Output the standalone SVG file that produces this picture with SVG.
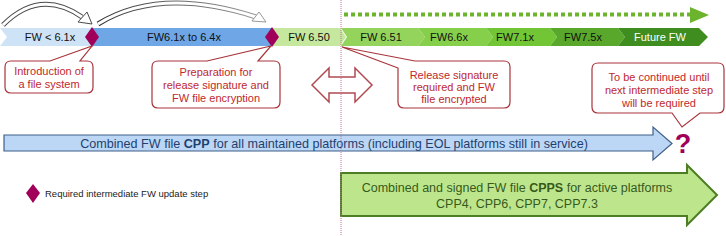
<svg xmlns="http://www.w3.org/2000/svg" width="726" height="236" viewBox="0 0 726 236">
<defs>
<style>
text{font-family:"Liberation Sans",Arial,sans-serif;}
.seg{font-size:11px;fill:#111;text-anchor:middle;}
.call{fill:#fff;stroke:#a8343a;stroke-width:1.2;}
.ct{font-size:11px;fill:#c0282d;text-anchor:middle;}
.dia{fill:#a0005a;}
.curveO{fill:none;stroke:#4a4a4a;stroke-width:5;}
.curveI{fill:none;stroke:#fff;stroke-width:3;}
</style>
<linearGradient id="fade" x1="0" x2="1" y1="0" y2="0">
<stop offset="0" stop-color="#333"/>
<stop offset="1" stop-color="#999"/>
</linearGradient>
</defs>

<g id="timeline">
<g id="seg-fw-lt-61">
<polygon points="0,28 92,28 92,46 0,46 7,37" fill="#cfe3f6"/>
<text class="seg" x="50" y="41">FW &lt; 6.1x</text>
</g>
<g id="seg-fw61-64">
<rect x="92" y="28" width="180" height="18" fill="#6ea6e6"/>
<text class="seg" x="184" y="41">FW6.1x to 6.4x</text>
</g>
<g id="seg-fw650">
<polygon points="272,28 340,28 346,37 340,46 272,46" fill="#c6e89e"/>
<text class="seg" x="309" y="41">FW 6.50</text>
</g>
<g id="seg-fw651">
<polygon points="341,28 418,28 425,37 418,46 341,46 347,37" fill="#94d45c"/>
<text class="seg" x="381" y="41">FW 6.51</text>
</g>
<g id="seg-fw66">
<polygon points="418,28 486,28 493,37 486,46 418,46 425,37" fill="#86cf4a"/>
<text class="seg" x="449" y="41">FW6.6x</text>
</g>
<g id="seg-fw71">
<polygon points="486,28 550,28 557,37 550,46 486,46 493,37" fill="#72c535"/>
<text class="seg" x="515" y="41">FW7.1x</text>
</g>
<g id="seg-fw75">
<polygon points="550,28 618,28 625,37 618,46 550,46 557,37" fill="#5aa82b"/>
<text class="seg" x="583" y="41">FW7.5x</text>
</g>
<g id="seg-future">
<polygon points="618,28 699,28 708,37 699,46 618,46 625,37" fill="#3f8c1f"/>
<text class="seg" x="660" y="41" style="fill:#fff">Future FW</text>
</g>
</g>

<g id="diamond-1"><polygon class="dia" points="92,27 99,37 92,47 85,37"/></g>
<g id="diamond-2"><polygon class="dia" points="272,27 279,37 272,47 265,37"/></g>

<g id="connectors">
<path class="curveO" d="M3,25 Q40,-12 82,17"/>
<path class="curveI" d="M3,25 Q40,-12 82,17"/>
<polygon points="78,22 87,12 92,24" fill="#fff" stroke="#4a4a4a" stroke-width="1"/>
<path d="M98,24 Q160,-14 256,17" fill="none" stroke="url(#fade)" stroke-width="5"/>
<path d="M98,24 Q160,-14 256,17" fill="none" stroke="#fff" stroke-width="3"/>
<polygon points="252,21 259,12 266,22" fill="#fff" stroke="#999" stroke-width="1"/>
<line x1="344" y1="14.5" x2="692" y2="14.5" stroke="#6cb42e" stroke-width="4" stroke-dasharray="4 3"/>
<polygon points="690,7 709,15 690,23" fill="#6cb42e"/>
</g>

<g id="callout-intro">
<path class="call" d="M11,61 H50 L92,46 L80,61 H87 Q93,61 93,67 V87 Q93,93 87,93 H11 Q5,93 5,87 V67 Q5,61 11,61 Z"/>
<text class="ct" x="49" y="75">Introduction of</text>
<text class="ct" x="49" y="88">a file system</text>
</g>

<g id="callout-prep">
<path class="call" d="M158,61 H207 L271,46 L258,61 H274 Q280,61 280,67 V102 Q280,108 274,108 H158 Q152,108 152,102 V67 Q152,61 158,61 Z"/>
<text class="ct" x="216" y="76">Preparation for</text>
<text class="ct" x="216" y="89">release signature and</text>
<text class="ct" x="216" y="102">FW file encryption</text>
</g>

<g id="callout-release">
<path class="call" d="M398,68 L342,47 L415,61 H504 Q510,61 510,67 V102 Q510,108 504,108 H404 Q398,108 398,102 Z"/>
<text class="ct" x="454" y="79">Release signature</text>
<text class="ct" x="454" y="91">required and FW</text>
<text class="ct" x="454" y="103">file encrypted</text>
</g>

<g id="callout-continued">
<path class="call" d="M598,63 H718 Q724,63 724,69 V107 Q724,113 718,113 H700 L682,127 L672,113 H598 Q592,113 592,107 V69 Q592,63 598,63 Z"/>
<text class="ct" x="659" y="81">To be continued until</text>
<text class="ct" x="659" y="94">next intermediate step</text>
<text class="ct" x="659" y="107">will be required</text>
</g>

<g id="double-arrow">
<polygon points="312,85 329,68 329,77 355,77 355,68 372,85 355,102 355,93 329,93 329,102" fill="#fff" stroke="#b04a50" stroke-width="1.5"/>
</g>

<g id="cpp-arrow">
<path d="M4,135 H653 V127 L672,143.5 L653,160 V151 H4 Z" fill="#bcd7f5" stroke="#3f5f8a" stroke-width="1.2"/>
<text x="334" y="147.5" font-size="12.6" fill="#1f3f6e" text-anchor="middle">Combined FW file <tspan font-weight="bold">CPP</tspan> for all maintained platforms (including EOL platforms still in service)</text>
</g>

<g id="question">
<text x="683" y="153" font-size="27" font-weight="bold" fill="#a0005a" text-anchor="middle">?</text>
</g>

<g id="cpps-arrow">
<path d="M341,173 H687 V165 L717,195 L687,225 V216 H341 Z" fill="#bde68c" stroke="#4d7d25" stroke-width="2"/>
<text x="517" y="192" font-size="12.5" fill="#375a1c" text-anchor="middle">Combined and signed FW file <tspan font-weight="bold">CPPS</tspan> for active platforms</text>
<text x="517" y="208" font-size="12.5" fill="#375a1c" text-anchor="middle">CPP4, CPP6, CPP7, CPP7.3</text>
</g>

<g id="legend">
<polygon class="dia" points="33,184 40,193 33,203 26,193"/>
<text x="45" y="197" font-size="9.5" fill="#222">Required intermediate FW update step</text>
</g>

<line id="divider" x1="341" y1="0" x2="341" y2="236" stroke="#b9729a" stroke-width="1" stroke-dasharray="1 1"/>
</svg>
